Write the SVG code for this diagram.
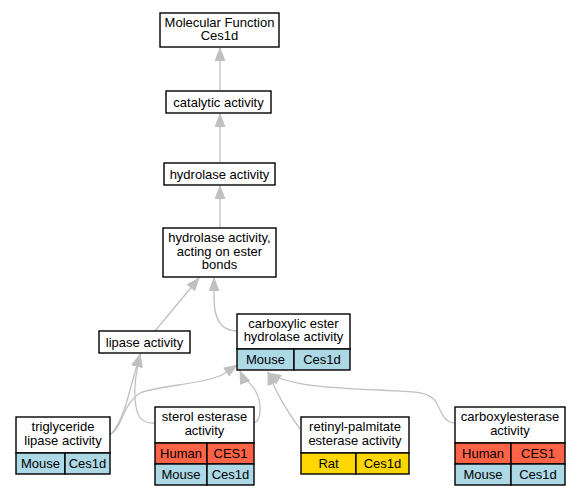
<svg xmlns="http://www.w3.org/2000/svg" width="580" height="496" viewBox="0 0 580 496">
<style>
.b{fill:#fff;stroke:#000;stroke-width:1.4}
.h{fill:#ff6347;stroke:#000;stroke-width:1.4}
.m{fill:#add8e6;stroke:#000;stroke-width:1.4}
.r{fill:#ffd700;stroke:#000;stroke-width:1.4}
text{font-family:"Liberation Sans",Arial,sans-serif;font-size:13px;text-anchor:middle;fill:#000}
.e{fill:none;stroke:#c0c0c0;stroke-width:1.3}
</style>
<defs>
<marker id="a" viewBox="0 0 14 11" refX="13" refY="5.5" markerWidth="14" markerHeight="11" markerUnits="userSpaceOnUse" orient="auto">
<path d="M0,0 L14,5.5 L0,11 z" fill="#c0c0c0"/>
</marker>
</defs>
<g id="edges">
<path class="e" marker-end="url(#a)" d="M220,91 L220,48"/>
<path class="e" marker-end="url(#a)" d="M220,163 L220,114"/>
<path class="e" marker-end="url(#a)" d="M220,228 L220,186"/>
<path class="e" marker-end="url(#a)" d="M155,331 L199,278"/>
<path class="e" marker-end="url(#a)" d="M237,331 C221,331 214,318 214,298 L214,278"/>
<path class="e" marker-end="url(#a)" d="M110,435 C118,428 125,410 130,390 L140,354"/>
<path class="e" marker-end="url(#a)" d="M111,434 C122,428 122,405 140,393 C160,385 200,385 222,375 L237,365"/>
<path class="e" marker-end="url(#a)" d="M155,423 C140,424 136,415 135,398 C134,385 136,375 140,354"/>
<path class="e" marker-end="url(#a)" d="M254,423 C262,420 262,402 255,390 C250,382 243,378 240,371"/>
<path class="e" marker-end="url(#a)" d="M300,429 C292,418 278,398 268,372"/>
<path class="e" marker-end="url(#a)" d="M454,423 C443,422 441,410 436,402 C428,390 410,392 380,390 C330,388 290,386 268,373"/>
</g>
<g id="n_mf">
<rect class="b" x="160" y="13" width="119" height="34"/>
<text x="219.5" y="26.5">Molecular Function<tspan x="219.5" dy="13.5">Ces1d</tspan></text>
</g>
<g id="n_cat">
<rect class="b" x="166" y="91" width="105" height="22"/>
<text x="218.5" y="106.5">catalytic activity</text>
</g>
<g id="n_hyd">
<rect class="b" x="164" y="163" width="111" height="22"/>
<text x="219.5" y="178.5">hydrolase activity</text>
</g>
<g id="n_ester">
<rect class="b" x="163" y="228" width="113" height="49"/>
<text x="219.5" y="242">hydrolase activity,<tspan x="219.5" dy="13.5">acting on ester</tspan><tspan x="219.5" dy="13.5">bonds</tspan></text>
</g>
<g id="n_lipase">
<rect class="b" x="99" y="331" width="91" height="22"/>
<text x="144.5" y="346.5">lipase activity</text>
</g>
<g id="n_carbester">
<rect class="b" x="237" y="314" width="113" height="35"/>
<text x="293.5" y="327.5">carboxylic ester<tspan x="293.5" dy="13.5">hydrolase activity</tspan></text>
<rect class="m" x="237" y="349" width="57" height="21"/>
<rect class="m" x="294" y="349" width="56" height="21"/>
<text x="265.5" y="364">Mouse</text>
<text x="322" y="364">Ces1d</text>
</g>
<g id="n_trig">
<rect class="b" x="16" y="417" width="94" height="36"/>
<text x="63" y="431">triglyceride<tspan x="63" dy="13.5">lipase activity</tspan></text>
<rect class="m" x="16" y="453" width="49" height="21"/>
<rect class="m" x="65" y="453" width="45" height="21"/>
<text x="40.5" y="468">Mouse</text>
<text x="87.5" y="468">Ces1d</text>
</g>
<g id="n_sterol">
<rect class="b" x="155" y="407" width="99" height="36"/>
<text x="204.5" y="421">sterol esterase<tspan x="204.5" dy="13.5">activity</tspan></text>
<rect class="h" x="155" y="443" width="52" height="21"/>
<rect class="h" x="207" y="443" width="47" height="21"/>
<text x="181" y="458">Human</text>
<text x="230.5" y="458">CES1</text>
<rect class="m" x="155" y="464" width="52" height="21"/>
<rect class="m" x="207" y="464" width="47" height="21"/>
<text x="181" y="479">Mouse</text>
<text x="230.5" y="479">Ces1d</text>
</g>
<g id="n_retinyl">
<rect class="b" x="301" y="417" width="108" height="36"/>
<text x="355" y="431">retinyl-palmitate<tspan x="355" dy="13.5">esterase activity</tspan></text>
<rect class="r" x="301" y="453" width="55" height="21"/>
<rect class="r" x="356" y="453" width="53" height="21"/>
<text x="328.5" y="468">Rat</text>
<text x="382.5" y="468">Ces1d</text>
</g>
<g id="n_carbox">
<rect class="b" x="455" y="407" width="110" height="36"/>
<text x="510" y="421">carboxylesterase<tspan x="510" dy="13.5">activity</tspan></text>
<rect class="h" x="455" y="443" width="56" height="21"/>
<rect class="h" x="511" y="443" width="54" height="21"/>
<text x="483" y="458">Human</text>
<text x="538" y="458">CES1</text>
<rect class="m" x="455" y="464" width="56" height="21"/>
<rect class="m" x="511" y="464" width="54" height="21"/>
<text x="483" y="479">Mouse</text>
<text x="538" y="479">Ces1d</text>
</g>
</svg>
